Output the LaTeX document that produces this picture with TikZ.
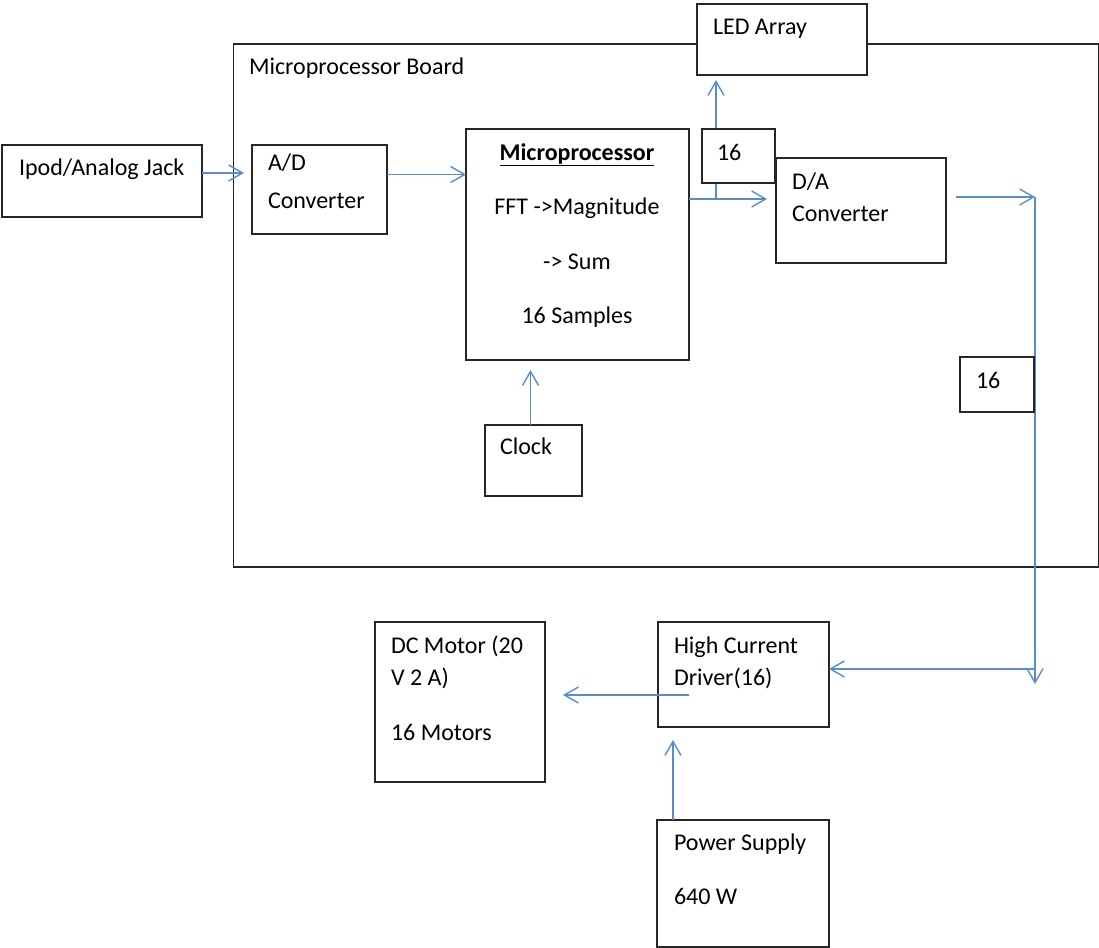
\documentclass[tikz,border=0pt]{standalone}
\usepackage{fontspec}
\setmainfont{Carlito}
\usetikzlibrary{arrows.meta}
\definecolor{conn}{RGB}{90,140,200}
\tikzset{
  box/.style={draw=black!85, line width=1.3pt, fill=white, inner sep=0pt, outer sep=0pt, anchor=north west},
  txt/.style={inner sep=0pt, outer sep=0pt, anchor=base west, font=\fontsize{24}{29}\selectfont},
  ctxt/.style={txt, anchor=base},
  arr/.style={draw=conn, line width=1.6pt, -{Straight Barb[length=14pt,width=16pt,line width=1.4pt]}},
}
\begin{document}
\begin{tikzpicture}[x=1pt,y=-1pt]
\useasboundingbox (0,0) rectangle (1099,947);
% board
\node[box, fill=none, minimum width=865pt, minimum height=523pt] (board) at (233.5,44) {};
\node[txt] (boardT) at (249,75) {Microprocessor Board};
% junction coordinates
\coordinate (j1) at (716,199);
\coordinate (j2) at (1035,197);
\coordinate (j3) at (1035,684);
\coordinate (j4) at (1035,669);
\coordinate (j5) at (689,695);
\coordinate (j6) at (673,820);
% boxes
\node[box, minimum width=170pt, minimum height=71pt] (led) at (697,4) {};
\node[txt] (ledT) at (713,35) {LED Array};
\node[box, minimum width=200pt, minimum height=72pt] (ipod) at (2,145) {};
\node[txt] (ipodT) at (19,175) {Ipod/Analog Jack};
\node[box, minimum width=135pt, minimum height=89pt] (adc) at (252,145) {};
\node[txt] (adcT1) at (268,170) {A/D};
\node[txt] (adcT2) at (268,208) {Converter};
\node[box, minimum width=223pt, minimum height=231pt] (micro) at (466,129) {};
\node[ctxt] (microT1) at (577,160) {\underline{\textbf{Microprocessor}}};
\node[ctxt] (microT2) at (577,214) {FFT ->Magnitude};
\node[ctxt] (microT3) at (577,269) {-> Sum};
\node[ctxt] (microT4) at (577,323) {16 Samples};
\node[box, minimum width=170pt, minimum height=105pt] (dac) at (776,158) {};
\node[txt] (dacT1) at (792,189) {D/A};
\node[txt] (dacT2) at (792,221) {Converter};
\node[box, minimum width=97pt, minimum height=71pt] (clock) at (485,425) {};
\node[txt] (clockT) at (500,454) {Clock};
\node[box, minimum width=170pt, minimum height=160pt] (motor) at (375,622) {};
\node[txt] (motorT1) at (391,653) {DC Motor (20};
\node[txt] (motorT2) at (391,685) {V 2 A)};
\node[txt] (motorT3) at (391,740) {16 Motors};
\node[box, minimum width=171pt, minimum height=105pt] (drv) at (658,622) {};
\node[txt] (drvT1) at (674,653) {High Current};
\node[txt] (drvT2) at (674,685) {Driver(16)};
\node[box, minimum width=172pt, minimum height=127pt] (psu) at (657,820) {};
\node[txt] (psuT1) at (674,850) {Power Supply};
\node[txt] (psuT2) at (674,904) {640 W};
% connectors
\draw[arr] ([yshift=8pt]ipod.east) -- ([yshift=8pt]ipod.east -| 244,0);
\draw[arr] ([yshift=15pt]adc.east) -- ([yshift=15pt]adc.east -| micro.west);
\draw[arr, shorten >=9pt] (micro.east |- j1) -- (dac.west |- j1);
\draw[arr, shorten >=5pt] (j1) -- (j1 |- led.south);
\draw[arr, shorten <=10pt] (dac.east |- j2) -- (j2);
\draw[arr] (j2) -- (j3);
\draw[arr] (j4) -- (drv.east |- j4);
\draw[arr, shorten >=18pt] (j5) -- (motor.east |- j5);
\draw[arr, shorten >=13pt] (j6) -- (j6 |- drv.south);
\draw[arr, shorten >=10pt] ([xshift=-3pt]clock.north) -- ([xshift=-3pt]clock.north |- micro.south);
% small boxes over lines
\node[box, minimum width=73pt, minimum height=54pt] (n16a) at (702,129) {};
\node[txt] (n16aT) at (717,160) {16};
\node[box, fill=none, minimum width=74pt, minimum height=55pt] (n16b) at (960,357) {};
\node[txt] (n16bT) at (976,388) {16};
\end{tikzpicture}
\end{document}
